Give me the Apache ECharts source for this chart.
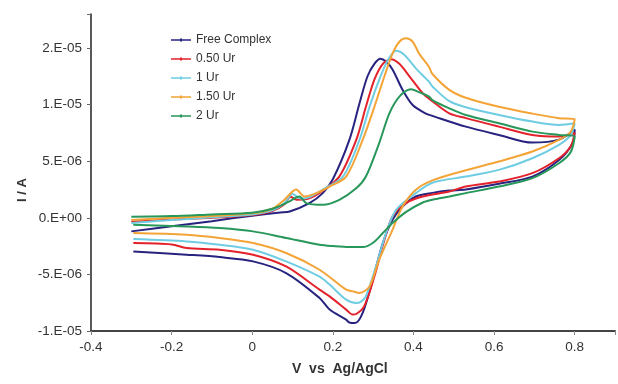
<!DOCTYPE html>
<html>
<head>
<meta charset="utf-8">
<script src="https://cdn.jsdelivr.net/npm/echarts@6/dist/echarts.min.js"></script>
<style>
  html, body { margin: 0; padding: 0; background: #fff; }
  #chart { width: 618px; height: 384px; }
</style>
</head>
<body>
<div id="chart"></div>
<script>
// potential (V vs Ag/AgCl), current in µA; forward sweep then reverse sweep
const seriesNames = ["Free Complex", "0.50 Ur", "1 Ur", "1.50 Ur", "2 Ur"]
const seriesColors = ["#27237f", "#e3222b", "#6fcde3", "#f4a436", "#27975a"]

const freeComplex = [
  [-0.30, -1.2], [-0.20, -0.75], [-0.10, -0.3], [-0.05, -0.05], [0.0, 0.18], [0.07, 0.47],
  [0.093, 0.56], [0.142, 1.3], [0.175, 2.18], [0.200, 3.4], [0.241, 6.88], [0.266, 10.1],
  [0.286, 12.5], [0.303, 13.6], [0.318, 14.05], [0.332, 13.8], [0.348, 13.1], [0.373, 11.3],
  [0.398, 9.96], [0.431, 9.2], [0.447, 9.0], [0.53, 8.05], [0.612, 7.32], [0.695, 6.64],
  [0.761, 6.9], [0.80, 7.8],
  [0.795, 6.6], [0.761, 5.1], [0.695, 3.64], [0.612, 3.0], [0.53, 2.5], [0.489, 2.4],
  [0.447, 2.2], [0.406, 1.88], [0.373, 1.0], [0.348, -0.18], [0.324, -2.23], [0.299, -5.47],
  [0.274, -8.4], [0.255, -9.3], [0.241, -9.25], [0.233, -9.0], [0.192, -8.1], [0.167, -7.08],
  [0.084, -4.88], [0.002, -3.85], [-0.081, -3.47], [-0.163, -3.26], [-0.295, -2.97]
]
const ur050 = [
  [-0.30, -0.35], [-0.20, -0.15], [-0.10, 0.0], [0.0, 0.25], [0.05, 0.6], [0.08, 1.2],
  [0.095, 1.85], [0.11, 1.6], [0.14, 1.7], [0.175, 2.4], [0.216, 3.64], [0.258, 6.88],
  [0.282, 9.8], [0.303, 12.2], [0.324, 13.6], [0.344, 14.0], [0.365, 13.6], [0.390, 12.5],
  [0.423, 11.0], [0.447, 10.3], [0.489, 9.23], [0.53, 8.8], [0.612, 8.05], [0.695, 7.32],
  [0.761, 7.17], [0.80, 7.5],
  [0.79, 6.3], [0.761, 5.26], [0.695, 3.94], [0.612, 3.2], [0.53, 2.76], [0.489, 2.32],
  [0.423, 1.88], [0.381, 1.3], [0.348, 0.12], [0.328, -1.94], [0.303, -5.18], [0.278, -7.8],
  [0.258, -8.5], [0.249, -8.55], [0.233, -8.11], [0.192, -6.94], [0.167, -6.35], [0.084, -4.3],
  [0.002, -3.26], [-0.081, -2.82], [-0.163, -2.67], [-0.20, -2.35], [-0.295, -2.23]
]
const ur100 = [
  [-0.30, -0.45], [-0.20, -0.2], [-0.10, 0.05], [0.0, 0.3], [0.05, 0.65], [0.08, 1.3],
  [0.100, 2.1], [0.12, 1.7], [0.14, 1.8], [0.175, 2.5], [0.225, 3.64], [0.266, 6.88],
  [0.291, 9.8], [0.315, 12.2], [0.336, 13.9], [0.357, 14.75], [0.377, 14.4], [0.406, 13.2],
  [0.439, 12.0], [0.447, 11.6], [0.489, 10.3], [0.53, 9.76], [0.612, 9.08], [0.695, 8.5],
  [0.761, 8.2], [0.80, 8.35],
  [0.79, 7.3], [0.761, 6.44], [0.695, 5.26], [0.612, 4.23], [0.53, 3.64], [0.447, 3.1],
  [0.406, 2.18], [0.357, 0.7], [0.332, -1.35], [0.307, -4.3], [0.282, -6.94], [0.270, -7.4],
  [0.258, -7.52], [0.233, -7.23], [0.192, -5.9], [0.167, -5.2], [0.084, -3.85], [0.002, -2.82],
  [-0.081, -2.38], [-0.163, -2.09], [-0.295, -1.88]
]
const ur150 = [
  [-0.30, -0.2], [-0.20, 0.0], [-0.10, 0.15], [0.0, 0.4], [0.05, 0.8], [0.08, 1.6],
  [0.109, 2.5], [0.130, 1.88], [0.159, 2.18], [0.192, 2.76], [0.233, 3.64], [0.274, 6.88],
  [0.303, 9.8], [0.328, 12.5], [0.348, 14.5], [0.365, 15.55], [0.381, 15.85], [0.398, 15.55],
  [0.414, 14.5], [0.439, 13.3], [0.447, 12.7], [0.489, 11.3], [0.53, 10.6], [0.612, 9.8],
  [0.695, 9.2], [0.761, 8.8], [0.80, 8.7],
  [0.79, 7.6], [0.761, 6.88], [0.695, 5.85], [0.612, 4.97], [0.53, 4.2], [0.447, 3.3],
  [0.406, 2.47], [0.373, 1.0], [0.348, -1.06], [0.315, -3.7], [0.291, -6.06], [0.266, -6.64],
  [0.25, -6.5], [0.233, -6.35], [0.167, -4.59], [0.084, -3.11], [0.002, -2.23], [-0.081, -1.79],
  [-0.163, -1.5], [-0.295, -1.35]
]
const ur200 = [
  [-0.30, 0.1], [-0.20, 0.15], [-0.10, 0.3], [0.0, 0.45], [0.05, 0.8], [0.09, 1.4],
  [0.117, 1.88], [0.134, 1.3], [0.175, 1.15], [0.216, 1.59], [0.258, 2.6], [0.282, 3.64],
  [0.315, 6.6], [0.340, 9.2], [0.365, 10.7], [0.394, 11.35], [0.414, 11.1], [0.439, 10.7],
  [0.447, 10.4], [0.489, 9.67], [0.53, 9.08], [0.612, 8.35], [0.695, 7.61], [0.761, 7.32],
  [0.80, 7.2],
  [0.79, 5.8], [0.761, 4.82], [0.695, 3.5], [0.612, 2.76], [0.53, 2.18], [0.489, 1.88],
  [0.447, 1.6], [0.423, 1.35], [0.381, 0.5], [0.348, -0.47], [0.324, -1.35], [0.299, -2.23],
  [0.274, -2.59], [0.241, -2.59], [0.20, -2.5], [0.167, -2.38], [0.084, -1.79], [0.002, -1.2],
  [-0.081, -0.91], [-0.163, -0.77], [-0.295, -0.62]
]
const seriesData = [freeComplex, ur050, ur100, ur150, ur200]

const xTickLabels = ["-0.4", "-0.2", "0", "0.2", "0.4", "0.6", "0.8"]
const yTickLabels = ["-1.E-05", "-5.E-06", "0.E+00", "5.E-06", "1.E-05", "2.E-05"]

const chart = echarts.init(document.getElementById("chart"), null, { renderer: "canvas" })

function pickLabel(list, idx) {
  const i = Math.round(idx)
  if (Math.abs(idx - i) > 1e-6 || i < 0 || i >= list.length) return ""
  return list[i]
}

const labelFont = { fontFamily: "Liberation Sans, Arial, sans-serif", fontSize: 13.5, color: "#333" }

chart.setOption({
  animation: false,
  backgroundColor: "#fff",
  grid: { left: 91, right: 2, top: 14, bottom: 53 },
  legend: {
    orient: "vertical",
    left: 166,
    top: 29,
    itemWidth: 20,
    itemHeight: 12,
    itemGap: 7,
    // thin line with a tiny marker in the middle, like the spreadsheet legend
    icon: "path://M0,4.3L20,4.3L20,5.7L0,5.7Z M9,3.4L11,3.4L11,6.6L9,6.6Z",
    data: seriesNames,
    textStyle: { fontFamily: "Liberation Sans, Arial, sans-serif", fontSize: 12, color: "#333" },
  },
  xAxis: {
    type: "value",
    min: -0.4,
    max: 0.9,
    interval: 0.2,
    splitLine: { show: false },
    axisLine: { onZero: false, lineStyle: { color: "#444", width: 2 } },
    axisTick: { length: 4, lineStyle: { color: "#888" } },
    axisLabel: {
      ...labelFont,
      margin: 9,
      formatter: (v) => pickLabel(xTickLabels, (v + 0.4) / 0.2),
    },
  },
  yAxis: {
    type: "value",
    min: -10,
    max: 18,
    interval: 5,
    splitLine: { show: false },
    axisLine: { onZero: false, lineStyle: { color: "#222", width: 1.5 } },
    axisTick: { length: 4, lineStyle: { color: "#666" } },
    axisLabel: {
      ...labelFont,
      margin: 9,
      formatter: (v) => pickLabel(yTickLabels, (v + 10) / 5),
    },
  },
  graphic: [
    {
      type: "text",
      left: 292,
      top: 362,
      style: { text: "V  vs  Ag/AgCl", font: "bold 14px Liberation Sans, Arial, sans-serif", fill: "#333" },
    },
    {
      type: "text",
      x: 16,
      y: 202,
      rotation: Math.PI / 2,
      style: { text: "I / A", font: "bold 13px Liberation Sans, Arial, sans-serif", fill: "#333" },
    },
  ],
  series: seriesNames.map((name, i) => ({
    name,
    type: "line",
    data: seriesData[i],
    color: seriesColors[i],
    smooth: 0.3,
    symbol: "circle",
    symbolSize: 3,
    showSymbol: false,
    lineStyle: { width: 2 },
  })),
})
</script>
</body>
</html>
